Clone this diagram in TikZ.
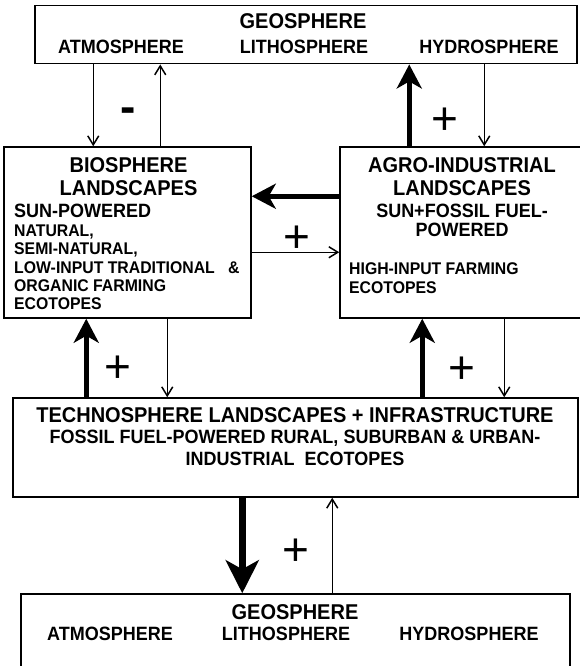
\documentclass[tikz,border=0pt]{standalone}
\usepackage{fontspec}
\setmainfont{Liberation Sans}
\usetikzlibrary{arrows.meta}

% slightly tall lettering
\newcommand{\tallcaps}[1]{\scalebox{1}[1.07]{#1}}

\tikzset{
  box/.style={draw, line width=1.5pt, rectangle, inner sep=0pt},
  title/.style={font=\fontsize{20}{22}\selectfont\bfseries, inner sep=0pt, anchor=base},
  sub/.style={font=\fontsize{18}{20}\selectfont\bfseries, inner sep=0pt, anchor=base},
  small/.style={font=\fontsize{15.8}{18}\selectfont\bfseries, inner sep=0pt, anchor=base west},
  sign/.style={font=\fontsize{46}{46}\selectfont, inner sep=0pt},
  minus/.style={font=\fontsize{46}{46}\selectfont\bfseries, inner sep=0pt},
  thin arrow/.style={line width=1.5pt, -{Straight Barb[length=9pt,width=11pt]}},
  thick arrow/.style={line width=5.5pt, -{Stealth[length=24pt,width=25pt,inset=7pt]}},
  heavy arrow/.style={line width=7pt, -{Stealth[length=33pt,width=33pt,inset=9pt]}},
}

\begin{document}
\begin{tikzpicture}[x=1pt, y=-1pt]
\useasboundingbox (0,0) rectangle (579,666);

% boxes
\node[box, minimum width=542pt, minimum height=58pt] (geoTop) at (306,34.7) {};
\node[box, minimum width=247pt, minimum height=171pt] (bio) at (127.5,232.5) {};
\node[box, minimum width=242pt, minimum height=171pt] (agro) at (461,232.5) {};
\node[box, minimum width=565pt, minimum height=99pt] (techno) at (295.5,447.5) {};
\node[box, minimum width=549pt, minimum height=80pt] (geoBot) at (295.5,634) {};

% upper geosphere
\node[title] (gt1) at (303,28.9) {\tallcaps{GEOSPHERE}};
\node[sub] (gt2) at (121,53.1) {\tallcaps{ATMOSPHERE}};
\node[sub] (gt3) at (304,53.1) {\tallcaps{LITHOSPHERE}};
\node[sub] (gt4) at (489,53.1) {\tallcaps{HYDROSPHERE}};

% biosphere landscapes
\node[title] (b1) at (128.5,172.5) {\tallcaps{BIOSPHERE}};
\node[title] (b2) at (128.5,195.5) {\tallcaps{LANDSCAPES}};
\node[sub, anchor=base west] (b3) at (14,217.6) {\tallcaps{SUN-POWERED}};
\node[small] (b4) at (14,236) {\tallcaps{NATURAL,}};
\node[small] (b5) at (14,254) {\tallcaps{SEMI-NATURAL,}};
\node[small] (b6) at (14,273) {\tallcaps{LOW-INPUT TRADITIONAL}};
\node[small] (b6a) at (228,273) {\tallcaps{\&}};
\node[small] (b7) at (14,291) {\tallcaps{ORGANIC FARMING}};
\node[small] (b8) at (14,309) {\tallcaps{ECOTOPES}};

% agro-industrial landscapes
\node[title] (a1) at (462,172.5) {\tallcaps{AGRO-INDUSTRIAL}};
\node[title] (a2) at (462,195.5) {\tallcaps{LANDSCAPES}};
\node[sub] (a3) at (462,217.6) {\tallcaps{SUN+FOSSIL FUEL-}};
\node[sub] (a4) at (462,236.6) {\tallcaps{POWERED}};
\node[small] (a5) at (349,274) {\tallcaps{HIGH-INPUT FARMING}};
\node[small] (a6) at (349,293) {\tallcaps{ECOTOPES}};

% technosphere
\node[title] (t1) at (295,422.5) {\tallcaps{TECHNOSPHERE LANDSCAPES + INFRASTRUCTURE}};
\node[sub] (t2) at (295,443.5) {\tallcaps{FOSSIL FUEL-POWERED RURAL, SUBURBAN \& URBAN-}};
\node[sub] (t3) at (295,465) {\tallcaps{INDUSTRIAL\ \ ECOTOPES}};

% lower geosphere
\node[title] (gb1) at (295,619) {\tallcaps{GEOSPHERE}};
\node[sub] (gb2) at (110,640) {\tallcaps{ATMOSPHERE}};
\node[sub] (gb3) at (286,640) {\tallcaps{LITHOSPHERE}};
\node[sub] (gb4) at (469,640) {\tallcaps{HYDROSPHERE}};

% exchanges between geosphere and the two landscape types
\draw[thin arrow] ([xshift=59pt]geoTop.south west) -- ([xshift=90pt]bio.north west);
\draw[thin arrow] ([xshift=157pt]bio.north west) -- ([xshift=126pt]geoTop.south west);
\draw[thick arrow] ([xshift=70pt]agro.north west) -- ([xshift=375pt]geoTop.south west);
\draw[thin arrow] ([xshift=450pt]geoTop.south west) -- ([xshift=145pt]agro.north west);

% between the landscape types
\draw[thick arrow] ([yshift=-50pt]agro.north west) -- ([yshift=-50pt]bio.north east);
\draw[thin arrow] ([yshift=-106pt]bio.north east) -- ([yshift=-106pt]agro.north west);

% technosphere to landscapes
\draw[thick arrow] ([xshift=74pt]techno.north west) -- ([xshift=83pt]bio.south west);
\draw[thin arrow] ([xshift=164pt]bio.south west) -- ([xshift=155pt]techno.north west);
\draw[thick arrow] ([xshift=410pt]techno.north west) -- ([xshift=83pt]agro.south west);
\draw[thin arrow] ([xshift=165pt]agro.south west) -- ([xshift=492pt]techno.north west);

% technosphere to geosphere
\draw[heavy arrow] ([xshift=230pt]techno.south west) -- ([xshift=222pt]geoBot.north west);
\draw[thin arrow] ([xshift=312pt]geoBot.north west) -- ([xshift=320pt]techno.south west);

% signs
\node[minus] (s1) at (128,115) {-};
\node[sign] (s2) at (445,121) {+};
\node[sign] (s3) at (297,239) {+};
\node[sign] (s4) at (118,369) {+};
\node[sign] (s5) at (462,370) {+};
\node[sign] (s6) at (296,552) {+};
\end{tikzpicture}
\end{document}
